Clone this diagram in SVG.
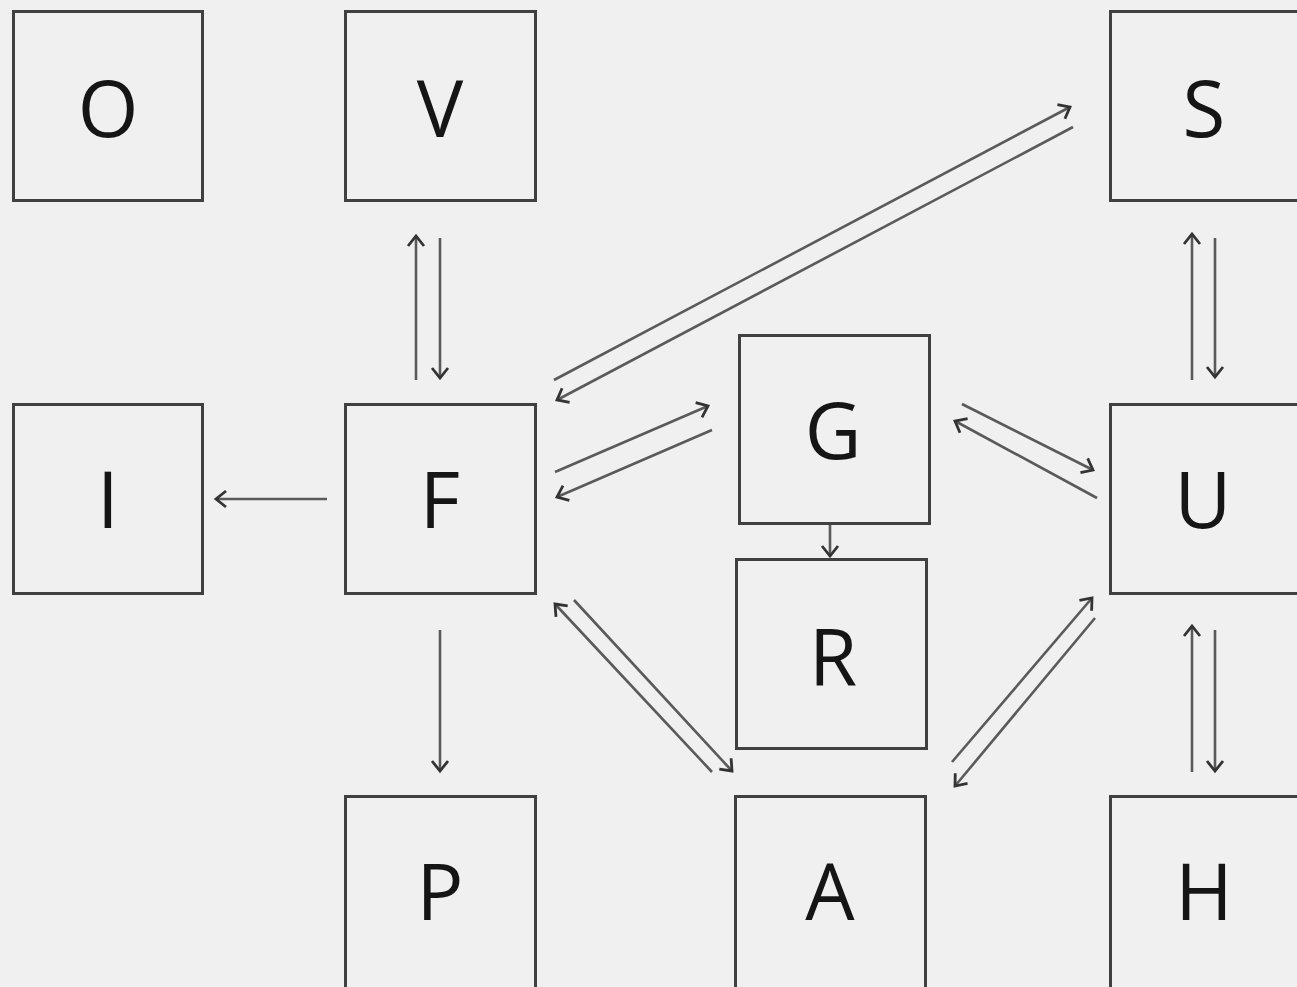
<svg xmlns="http://www.w3.org/2000/svg" width="1297" height="987" viewBox="0 0 1297 987">
  <style>
    .box { fill: #f0f0f0; stroke: #404040; stroke-width: 3; }
    .lbl { font-family: "Open Sans", "Noto Sans", sans-serif; font-size: 78px; fill: #151515; text-anchor: middle; }
    .conn { stroke: #5a5a5a; stroke-width: 2.6; fill: none; marker-end: url(#head); }
  </style>
  <defs>
    <marker id="head" markerUnits="userSpaceOnUse" orient="auto" markerWidth="24" markerHeight="24" refX="0" refY="0" viewBox="-14 -12 18 24" overflow="visible">
      <path d="M-10,-8 L0,0 L-10,8" fill="none" stroke="#333" stroke-width="2.8" stroke-linejoin="miter"/>
    </marker>
  </defs>
  <rect width="1297" height="987" fill="#f0f0f0"/>

  <g id="node-O"><rect class="box" x="13.5" y="11.5" width="189" height="189"/><text class="lbl" x="108" y="137">O</text></g>
  <g id="node-V"><rect class="box" x="345.5" y="11.5" width="190" height="189"/><text class="lbl" x="440" y="137">V</text></g>
  <g id="node-S"><rect class="box" x="1110.5" y="11.5" width="190" height="189"/><text class="lbl" x="1204" y="137">S</text></g>
  <g id="node-I"><rect class="box" x="13.5" y="404.5" width="189" height="189"/><text class="lbl" x="108" y="528">I</text></g>
  <g id="node-F"><rect class="box" x="345.5" y="404.5" width="190" height="189"/><text class="lbl" x="440" y="528">F</text></g>
  <g id="node-G"><rect class="box" x="739.5" y="335.5" width="190" height="188"/><text class="lbl" x="833" y="459">G</text></g>
  <g id="node-U"><rect class="box" x="1110.5" y="404.5" width="190" height="189"/><text class="lbl" x="1203" y="528">U</text></g>
  <g id="node-R"><rect class="box" x="736.5" y="559.5" width="190" height="189"/><text class="lbl" x="833" y="686">R</text></g>
  <g id="node-P"><rect class="box" x="345.5" y="796.5" width="190" height="192"/><text class="lbl" x="440" y="920">P</text></g>
  <g id="node-A"><rect class="box" x="735.5" y="796.5" width="190" height="192"/><text class="lbl" x="830" y="920">A</text></g>
  <g id="node-H"><rect class="box" x="1110.5" y="796.5" width="190" height="192"/><text class="lbl" x="1204" y="920">H</text></g>

  <g id="connectors">
    <!-- V <-> F -->
    <line class="conn" x1="416" y1="380" x2="416" y2="236"/>
    <line class="conn" x1="440" y1="238" x2="440" y2="378"/>
    <!-- F -> I -->
    <line class="conn" x1="327" y1="499" x2="216" y2="499"/>
    <!-- F -> P -->
    <line class="conn" x1="440" y1="630" x2="440" y2="771"/>
    <!-- G -> R -->
    <line class="conn" x1="830" y1="525" x2="830" y2="556"/>
    <!-- S <-> U -->
    <line class="conn" x1="1192" y1="380" x2="1192" y2="234"/>
    <line class="conn" x1="1215" y1="238" x2="1215" y2="377"/>
    <!-- U <-> H -->
    <line class="conn" x1="1192" y1="772" x2="1192" y2="626"/>
    <line class="conn" x1="1215" y1="630" x2="1215" y2="771"/>
    <!-- F <-> S -->
    <line class="conn" x1="554" y1="380" x2="1070" y2="107"/>
    <line class="conn" x1="1073" y1="127" x2="557" y2="400"/>
    <!-- F <-> G -->
    <line class="conn" x1="555" y1="472" x2="708" y2="406"/>
    <line class="conn" x1="712" y1="430" x2="557" y2="497"/>
    <!-- G <-> U -->
    <line class="conn" x1="962" y1="404" x2="1093" y2="470"/>
    <line class="conn" x1="1097" y1="498" x2="955" y2="421"/>
    <!-- F <-> A -->
    <line class="conn" x1="574" y1="600" x2="732" y2="771"/>
    <line class="conn" x1="712" y1="772" x2="555" y2="604"/>
    <!-- A <-> U -->
    <line class="conn" x1="952" y1="762" x2="1092" y2="598"/>
    <line class="conn" x1="1095" y1="618" x2="955" y2="786"/>
  </g>
</svg>
